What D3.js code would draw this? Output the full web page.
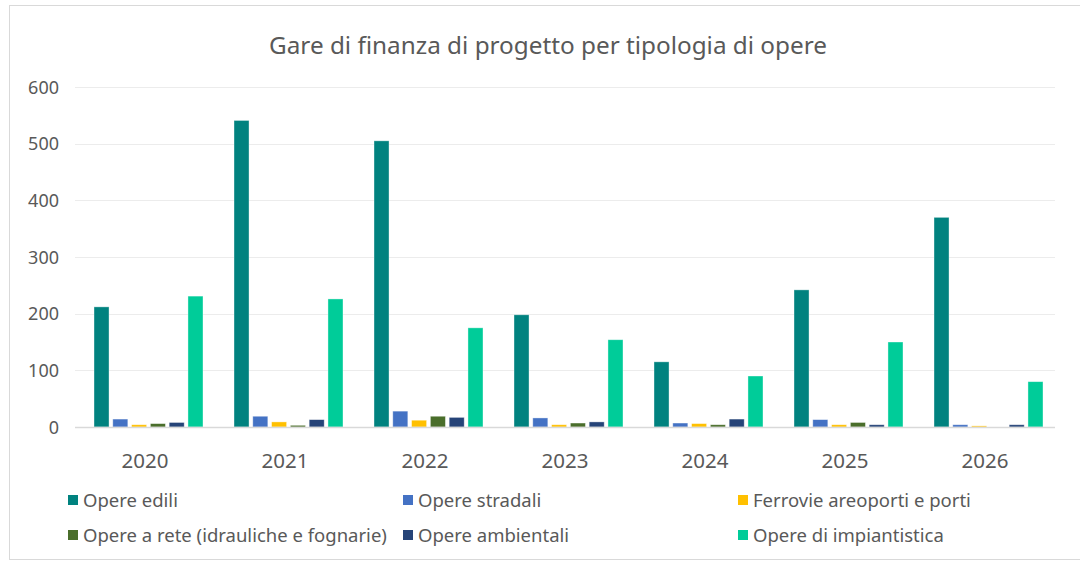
<!DOCTYPE html>
<html><head><meta charset="utf-8">
<script src="https://cdn.jsdelivr.net/npm/d3@7"></script>
<style>body{margin:0;background:#fff;} text{font-family:"Noto Sans",sans-serif;fill:#595959;}</style>
</head><body>
<svg id="c" width="1080" height="565"></svg>
<script>
const years = ["2020","2021","2022","2023","2024","2025","2026"];
const seriesNames = ["Opere edili","Opere stradali","Ferrovie areoporti e porti","Opere a rete (idrauliche e fognarie)","Opere ambientali","Opere di impiantistica"];
const seriesColors = ["#00827F","#4472C4","#FFC000","#4A6E2B","#264478","#00CC99"];
const operEdili = [212, 541, 505, 198, 115, 242, 370];
const opereStradali = [14, 19, 28, 16, 7, 13, 4];
const ferrovie = [4, 9, 12, 4, 6, 4, 2];
const opereRete = [6, 3, 19, 7, 4, 8, 0];
const opereAmbientali = [8, 13, 17, 9, 14, 4, 4];
const opereImpiantistica = [231, 226, 175, 154, 90, 150, 80];
const yTicks = [0,100,200,300,400,500,600];
const title = "Gare di finanza di progetto per tipologia di opere";

const values = [operEdili, opereStradali, ferrovie, opereRete, opereAmbientali, opereImpiantistica];
const svg = d3.select("#c");
svg.append("rect").attr("x",9.5).attr("y",5.5).attr("width",1090).attr("height",554).attr("fill","none").attr("stroke","#d9d9d9");

const x = d3.scaleBand().domain(years).range([75,1055]).paddingInner(0).paddingOuter(0);
const y = d3.scaleLinear().domain([0,600]).range([427,87]);
const inner = d3.scaleBand().domain(d3.range(6)).range([19,128]).paddingInner(0.2);

svg.append("text").attr("x",548).attr("y",54).attr("text-anchor","middle").style("font-size","24.3px").text(title);

svg.append("g").selectAll("line").data(yTicks.filter(d=>d>0)).join("line")
  .attr("x1",75).attr("x2",1055).attr("y1",d=>Math.round(y(d))+0.5).attr("y2",d=>Math.round(y(d))+0.5)
  .attr("stroke","#ececec").attr("stroke-width",1);

svg.append("g").selectAll("text").data(yTicks).join("text")
  .attr("x",59).attr("y",d=>y(d)+6.5).attr("text-anchor","end").style("font-size","18px").text(d=>d);

years.forEach((yr,i)=>{
  const g = svg.append("g").attr("transform",`translate(${x(yr)},0)`);
  g.selectAll("rect").data(values.map((v,s)=>({s,v:v[i]}))).join("rect")
    .attr("x",d=>inner(d.s)).attr("width",inner.bandwidth())
    .attr("y",d=>y(d.v)).attr("height",d=>y(0)-y(d.v))
    .attr("fill",d=>seriesColors[d.s]).attr("stroke","#fff").attr("stroke-opacity",0.5).attr("stroke-width",0.75);
});

svg.append("line").attr("x1",75).attr("x2",1055).attr("y1",427.5).attr("y2",427.5).attr("stroke","#d9d9d9").attr("stroke-width",1.5);

svg.append("g").selectAll("text").data(years).join("text")
  .attr("x",d=>x(d)+x.bandwidth()/2).attr("y",468).attr("text-anchor","middle").style("font-size","20.5px").text(d=>d);

const legX = [68, 403, 738], legY = [500, 535];
const lg = svg.append("g").selectAll("g").data(seriesNames).join("g")
  .attr("transform",(d,i)=>`translate(${legX[i%3]},${legY[Math.floor(i/3)]})`);
lg.append("rect").attr("x",0).attr("y",-5).attr("width",10).attr("height",10).attr("fill",(d,i)=>seriesColors[i]);
lg.append("text").attr("x",15).attr("y",6.5).style("font-size","18.5px").text(d=>d);
</script>
</body></html>
